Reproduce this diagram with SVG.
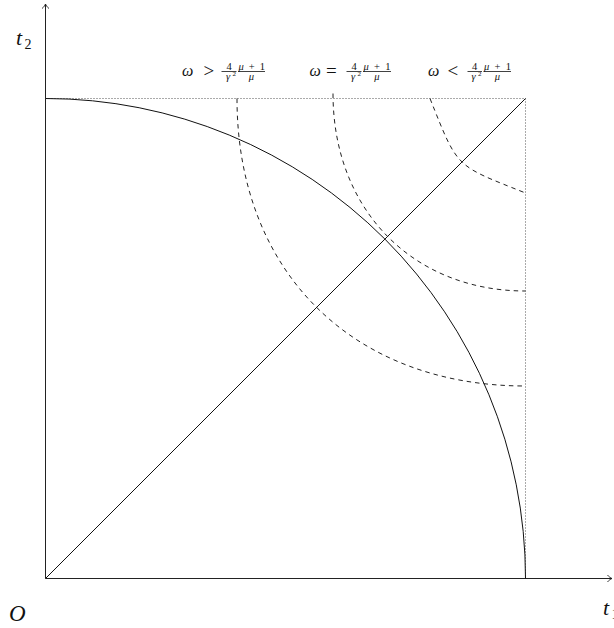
<svg xmlns="http://www.w3.org/2000/svg" width="614" height="628" viewBox="0 0 614 628">
<style>
  .ax { stroke:#222; stroke-width:1; fill:none; }
  .solid { stroke:#111; stroke-width:1; fill:none; }
  .dot { stroke:#555; stroke-width:1; fill:none; stroke-dasharray:1 2; }
  .dash { stroke:#222; stroke-width:1; fill:none; stroke-dasharray:4.5 4; }
  .lbl { font-family:"Liberation Serif","DejaVu Serif",serif; font-style:italic; fill:#111; }
  .rm { font-family:"Liberation Serif","DejaVu Serif",serif; fill:#111; }
  .bar { stroke:#111; stroke-width:0.8; }
  .om { font-size:16px; }
  .rel { font-size:19px; }
  .fr { font-size:10.5px; }
  .sup { font-size:7px; }
</style>
<defs>
  <marker id="arr" markerUnits="userSpaceOnUse" markerWidth="10" markerHeight="10" refX="0" refY="0" viewBox="-5 -5 10 10" orient="auto" overflow="visible">
    <path d="M -4.5,-3.5 C -3,-1.5 -1.2,-0.5 0,0 C -1.2,0.5 -3,1.5 -4.5,3.5" fill="none" stroke="#222" stroke-width="0.9"/>
  </marker>
</defs>
<rect width="614" height="628" fill="#fff"/>

<g id="axes">
  <line class="ax" x1="45.5" y1="578.5" x2="45.5" y2="4" marker-end="url(#arr)"/>
  <line class="ax" x1="45.5" y1="578.5" x2="612" y2="578.5" marker-end="url(#arr)"/>
</g>

<g id="box">
  <line class="dot" x1="45.5" y1="98.5" x2="525.5" y2="98.5"/>
  <line class="dot" x1="525.5" y1="98.5" x2="525.5" y2="578.5"/>
</g>

<g id="curves">
  <path id="circle" class="solid" d="M 45.5 98.5 A 480 480 0 0 1 525.5 578.5"/>
  <line id="diagonal" class="solid" x1="45.5" y1="578.5" x2="525.5" y2="98.5"/>
  <path id="level-gt" class="dash" d="M 237 98.5 C 237 271.5, 352.4 386, 525.5 386"/>
  <path id="level-eq" class="dash" d="M 333 93.5 C 333 210.5, 413.5 291, 525.5 291"/>
  <path id="level-lt" class="dash" d="M 430 98.5 C 458.4 169.5, 454.5 164.6, 525.5 193"/>
</g>

<g id="label-t2">
  <text class="lbl" x="16" y="45" font-size="22">t</text>
  <text class="rm" x="24.5" y="48.5" font-size="14">2</text>
</g>
<g id="label-O">
  <text class="lbl" x="9" y="621" font-size="23">O</text>
</g>
<g id="label-t1">
  <text class="lbl" x="603" y="615" font-size="22">t</text>
  <text class="rm" x="611.5" y="618.5" font-size="14">1</text>
</g>

<g id="label-gt">
  <text class="lbl om" x="182" y="76">ω</text>
  <text class="rm rel" x="203.5" y="77">&gt;</text>
  <text class="rm fr" x="229" y="69.7" text-anchor="middle">4</text>
  <line class="bar" x1="221.5" y1="71.5" x2="236.5" y2="71.5"/>
  <text class="lbl fr" x="228" y="79.5" text-anchor="middle">γ</text>
  <text class="rm sup" x="232.5" y="76">2</text>
  <text class="lbl fr" x="238.5" y="69.7" textLength="26.5" lengthAdjust="spacing">μ<tspan class="rm" font-style="normal">+1</tspan></text>
  <line class="bar" x1="238" y1="71.5" x2="265" y2="71.5"/>
  <text class="lbl fr" x="251.5" y="79.5" text-anchor="middle">μ</text>
</g>

<g id="label-eq">
  <text class="lbl om" x="309.5" y="76">ω</text>
  <text class="rm rel" x="326" y="77">=</text>
  <text class="rm fr" x="354" y="69.7" text-anchor="middle">4</text>
  <line class="bar" x1="346.5" y1="71.5" x2="361.5" y2="71.5"/>
  <text class="lbl fr" x="353" y="79.5" text-anchor="middle">γ</text>
  <text class="rm sup" x="357.5" y="76">2</text>
  <text class="lbl fr" x="363.5" y="69.7" textLength="27" lengthAdjust="spacing">μ<tspan class="rm" font-style="normal">+1</tspan></text>
  <line class="bar" x1="363" y1="71.5" x2="391" y2="71.5"/>
  <text class="lbl fr" x="377" y="79.5" text-anchor="middle">μ</text>
</g>

<g id="label-lt">
  <text class="lbl om" x="428" y="76">ω</text>
  <text class="rm rel" x="447.5" y="77">&lt;</text>
  <text class="rm fr" x="474.5" y="69.7" text-anchor="middle">4</text>
  <line class="bar" x1="467.5" y1="71.5" x2="482" y2="71.5"/>
  <text class="lbl fr" x="473.5" y="79.5" text-anchor="middle">γ</text>
  <text class="rm sup" x="478" y="76">2</text>
  <text class="lbl fr" x="484" y="69.7" textLength="27" lengthAdjust="spacing">μ<tspan class="rm" font-style="normal">+1</tspan></text>
  <line class="bar" x1="483.5" y1="71.5" x2="511" y2="71.5"/>
  <text class="lbl fr" x="497.5" y="79.5" text-anchor="middle">μ</text>
</g>
</svg>
